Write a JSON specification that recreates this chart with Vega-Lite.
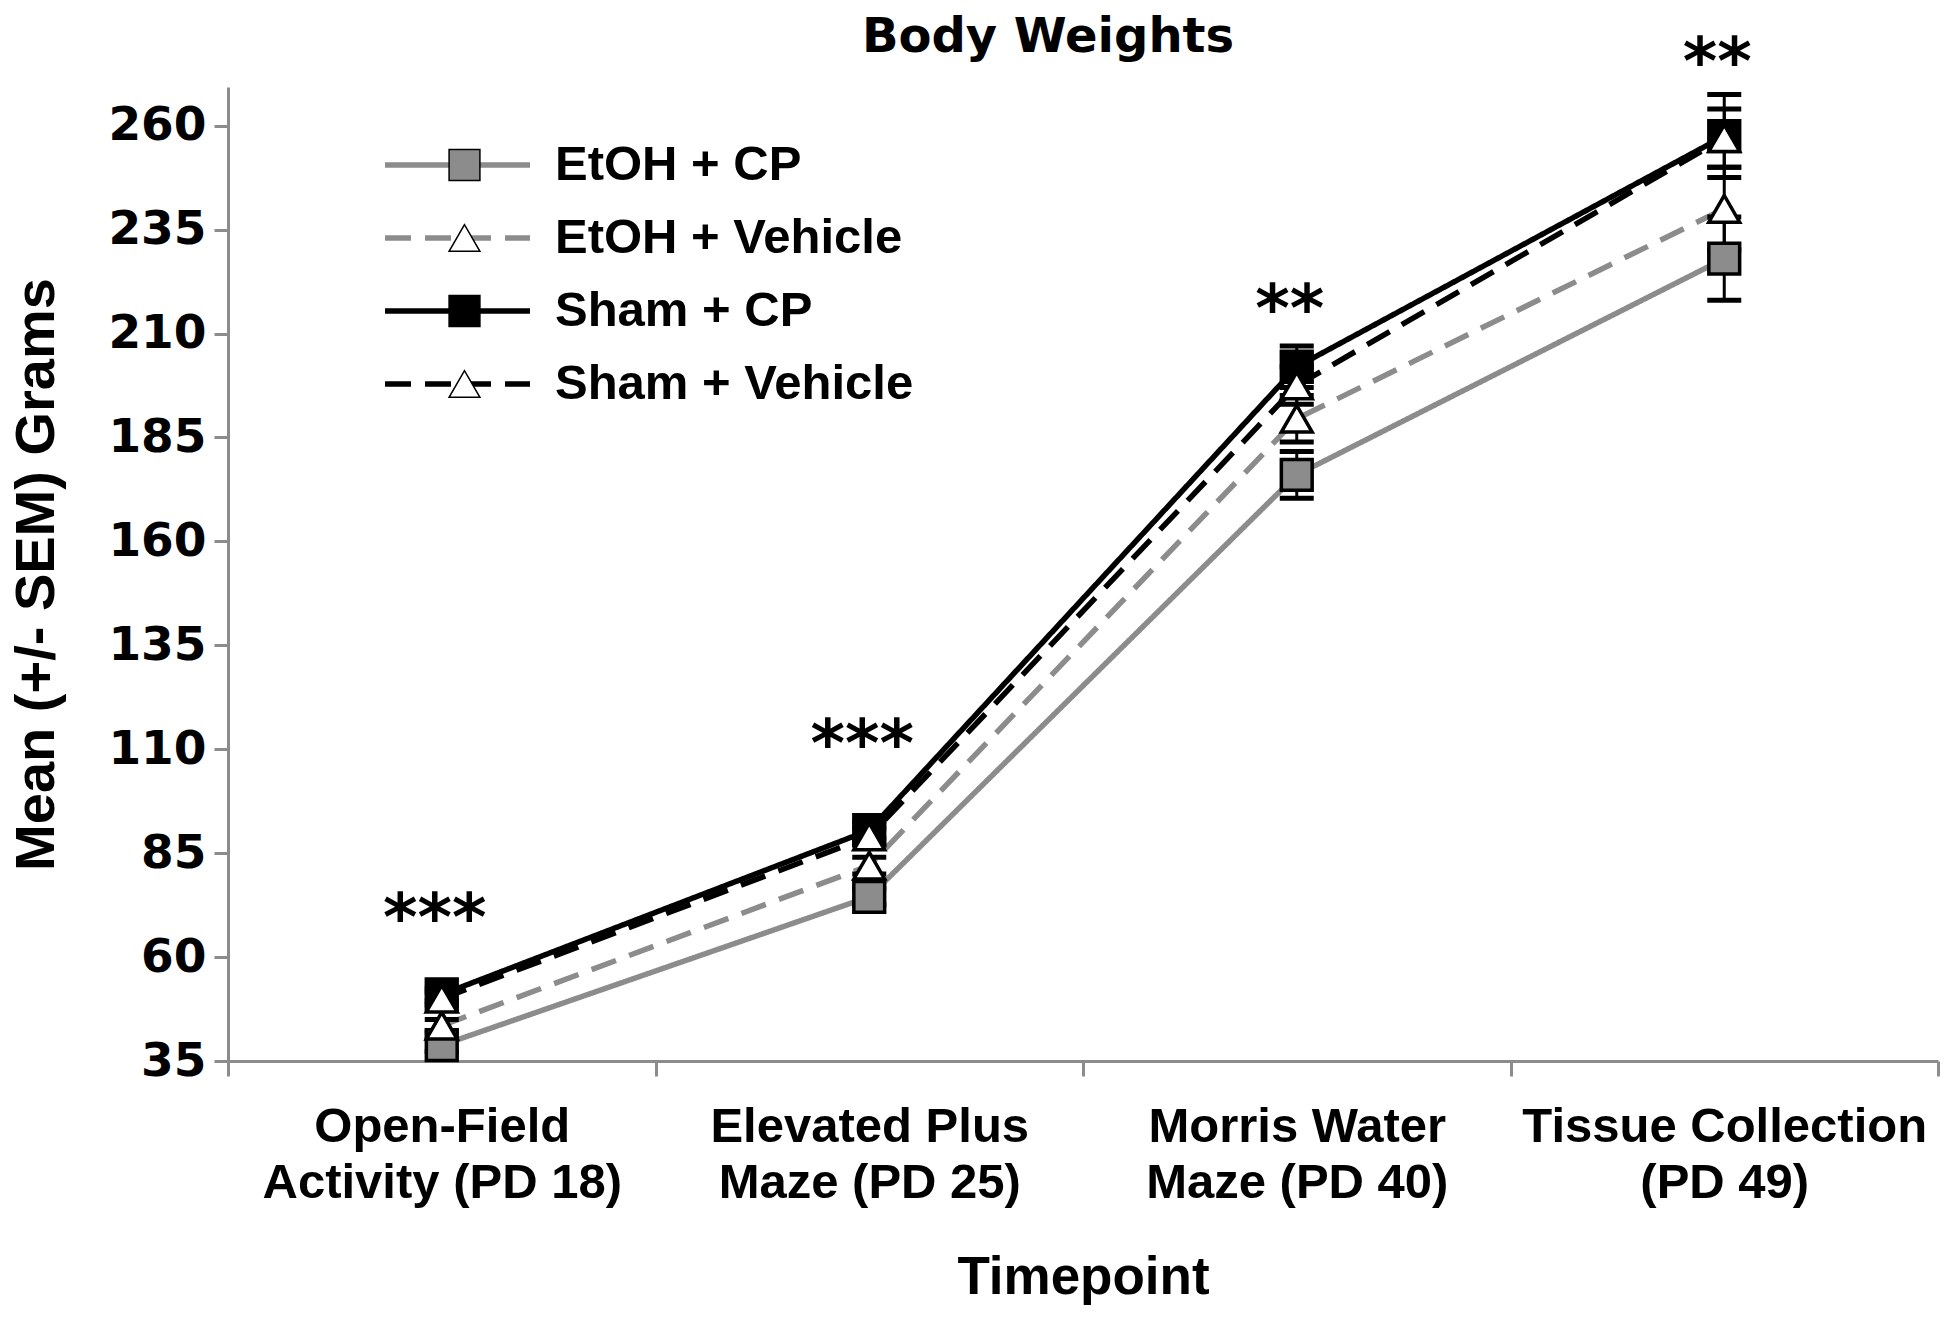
{
  "$schema": "https://vega.github.io/schema/vega-lite/v6.json",
  "width": 1710,
  "height": 974,
  "autosize": {"type": "none"},
  "padding": {"left": 228, "top": 87, "right": 12, "bottom": 256},
  "background": "white",
  "title": {"text": "Body Weights", "font": "DejaVu Sans", "fontSize": 48, "fontWeight": "bold", "color": "black", "anchor": "middle", "frame": "group", "dx": -35, "offset": -31},
  "config": {"view": {"stroke": null}},
  "datasets": {
    "weights": [
      {"timepoint": "Open-Field\nActivity (PD 18)", "series": "EtOH + CP", "mean": 38.8, "lo": 37.3, "hi": 40.3},
      {"timepoint": "Elevated Plus\nMaze (PD 25)", "series": "EtOH + CP", "mean": 74.5, "lo": 72.5, "hi": 76.5},
      {"timepoint": "Morris Water\nMaze (PD 40)", "series": "EtOH + CP", "mean": 176, "lo": 170.4, "hi": 181.6},
      {"timepoint": "Tissue Collection\n(PD 49)", "series": "EtOH + CP", "mean": 228, "lo": 218, "hi": 238},
      {"timepoint": "Open-Field\nActivity (PD 18)", "series": "EtOH + Vehicle", "mean": 43.5, "lo": 42, "hi": 45},
      {"timepoint": "Elevated Plus\nMaze (PD 25)", "series": "EtOH + Vehicle", "mean": 82, "lo": 80, "hi": 84},
      {"timepoint": "Morris Water\nMaze (PD 40)", "series": "EtOH + Vehicle", "mean": 189.5, "lo": 183.9, "hi": 195.1},
      {"timepoint": "Tissue Collection\n(PD 49)", "series": "EtOH + Vehicle", "mean": 240, "lo": 230, "hi": 250},
      {"timepoint": "Open-Field\nActivity (PD 18)", "series": "Sham + CP", "mean": 51, "lo": 49.5, "hi": 52.5},
      {"timepoint": "Elevated Plus\nMaze (PD 25)", "series": "Sham + CP", "mean": 90.5, "lo": 88.5, "hi": 92.5},
      {"timepoint": "Morris Water\nMaze (PD 40)", "series": "Sham + CP", "mean": 202, "lo": 197, "hi": 207},
      {"timepoint": "Tissue Collection\n(PD 49)", "series": "Sham + CP", "mean": 257.5, "lo": 247.5, "hi": 267.5},
      {"timepoint": "Open-Field\nActivity (PD 18)", "series": "Sham + Vehicle", "mean": 50, "lo": 48.5, "hi": 51.5},
      {"timepoint": "Elevated Plus\nMaze (PD 25)", "series": "Sham + Vehicle", "mean": 89, "lo": 87, "hi": 91},
      {"timepoint": "Morris Water\nMaze (PD 40)", "series": "Sham + Vehicle", "mean": 197.5, "lo": 193, "hi": 202},
      {"timepoint": "Tissue Collection\n(PD 49)", "series": "Sham + Vehicle", "mean": 257, "lo": 250, "hi": 264}
    ],
    "stars": [
      {"timepoint": "Open-Field\nActivity (PD 18)", "y": 64, "label": "***"},
      {"timepoint": "Elevated Plus\nMaze (PD 25)", "y": 106, "label": "***"},
      {"timepoint": "Morris Water\nMaze (PD 40)", "y": 210.7, "label": "**"},
      {"timepoint": "Tissue Collection\n(PD 49)", "y": 270, "label": "**"}
    ]
  },
  "encoding": {
    "x": {
      "field": "timepoint", "type": "nominal",
      "sort": ["Open-Field\nActivity (PD 18)", "Elevated Plus\nMaze (PD 25)", "Morris Water\nMaze (PD 40)", "Tissue Collection\n(PD 49)"],
      "scale": {"type": "band", "paddingInner": 0, "paddingOuter": 0},
      "axis": {
        "title": "Timepoint", "titleFont": "Liberation Sans", "titleFontSize": 53, "titleFontWeight": "bold", "titleColor": "black", "titlePadding": 44,
        "labelAngle": 0, "labelExpr": "datum.value ? split(datum.value, '\\n') : ''", "labelFont": "Liberation Sans", "labelFontSize": 49, "labelFontWeight": "bold", "labelColor": "black", "labelLineHeight": 56, "labelPadding": 26, "labelLimit": 0,
        "tickBand": "extent", "tickSize": 15, "tickWidth": 3, "tickColor": "#8c8c8c", "domainColor": "#8c8c8c", "domainWidth": 3, "grid": false
      }
    }
  },
  "layer": [
    {
      "data": {"name": "weights"},
      "mark": {"type": "line"},
      "encoding": {
        "y": {
          "field": "mean", "type": "quantitative",
          "scale": {"domain": [35, 269.3], "nice": false, "zero": false},
          "axis": {
            "values": [35, 60, 85, 110, 135, 160, 185, 210, 235, 260],
            "title": "Mean (+/- SEM) Grams", "titleFont": "Liberation Sans", "titleFontSize": 56, "titleFontWeight": "bold", "titleColor": "black", "titlePadding": 42,
            "labelFont": "DejaVu Sans", "labelFontSize": 47, "labelFontWeight": "bold", "labelColor": "black", "labelPadding": 8,
            "tickSize": 14, "tickWidth": 3, "tickColor": "#8c8c8c", "domainColor": "#8c8c8c", "domainWidth": 3, "grid": false
          }
        },
        "color": {
          "field": "series", "type": "nominal",
          "scale": {"domain": ["EtOH + CP", "EtOH + Vehicle", "Sham + CP", "Sham + Vehicle"], "range": ["#8c8c8c", "#8c8c8c", "#000000", "#000000"]},
          "legend": {"orient": "none", "legendX": 154, "legendY": 54, "title": null, "symbolType": "stroke", "symbolSize": 21025, "clipHeight": 48, "labelFont": "Liberation Sans", "labelFontSize": 49, "labelFontWeight": "bold", "labelColor": "black", "labelOffset": 22, "rowPadding": 24, "padding": 0, "labelLimit": 0, "zindex": 0}
        },
        "strokeDash": {
          "field": "series", "type": "nominal",
          "scale": {"domain": ["EtOH + CP", "EtOH + Vehicle", "Sham + CP", "Sham + Vehicle"], "range": [[1, 0], [26, 14], [1, 0], [26, 14]]},
          "legend": {"orient": "none", "legendX": 154, "legendY": 54, "title": null, "symbolType": "stroke", "symbolSize": 21025, "clipHeight": 48, "labelFont": "Liberation Sans", "labelFontSize": 49, "labelFontWeight": "bold", "labelColor": "black", "labelOffset": 22, "rowPadding": 24, "padding": 0, "labelLimit": 0, "zindex": 0}
        },
        "strokeWidth": {
          "field": "series", "type": "nominal",
          "scale": {"domain": ["EtOH + CP", "EtOH + Vehicle", "Sham + CP", "Sham + Vehicle"], "range": [5.5, 5.5, 7.5, 7]},
          "legend": {"orient": "none", "legendX": 154, "legendY": 54, "title": null, "symbolType": "stroke", "symbolSize": 21025, "clipHeight": 48, "labelFont": "Liberation Sans", "labelFontSize": 49, "labelFontWeight": "bold", "labelColor": "black", "labelOffset": 22, "rowPadding": 24, "padding": 0, "labelLimit": 0, "zindex": 0}
        }
      }
    },
    {
      "data": {"name": "weights"},
      "mark": {"type": "rule", "strokeWidth": 3, "color": "black"},
      "encoding": {
        "y": {"field": "lo", "type": "quantitative"},
        "y2": {"field": "hi"}
      }
    },
    {
      "data": {"name": "weights"},
      "mark": {"type": "tick", "orient": "horizontal", "size": 34, "thickness": 5, "color": "black", "opacity": 1},
      "encoding": {"y": {"field": "lo", "type": "quantitative"}}
    },
    {
      "data": {"name": "weights"},
      "mark": {"type": "tick", "orient": "horizontal", "size": 34, "thickness": 5, "color": "black", "opacity": 1},
      "encoding": {"y": {"field": "hi", "type": "quantitative"}}
    },
    {
      "data": {"name": "weights"},
      "mark": {"type": "point", "filled": true, "size": 950, "stroke": "black", "strokeWidth": 3.5, "opacity": 1},
      "encoding": {
        "y": {"field": "mean", "type": "quantitative"},
        "shape": {
          "field": "series", "type": "nominal",
          "scale": {"range": ["square", "triangle-up", "square", "triangle-up"]},
          "legend": {"orient": "none", "legendX": 212, "legendY": 54, "title": null, "symbolSize": 950, "clipHeight": 48, "labelFont": "Liberation Sans", "labelFontSize": 49, "labelFontWeight": "bold", "labelExpr": "''", "rowPadding": 24, "padding": 0, "zindex": 1,
            "encode": {"symbols": {"update": {"stroke": {"value": "black"}, "strokeWidth": {"value": 3.5}, "opacity": {"value": 1}}}}}
        },
        "fill": {
          "field": "series", "type": "nominal",
          "scale": {"range": ["#8c8c8c", "#ffffff", "#000000", "#ffffff"]},
          "legend": {"orient": "none", "legendX": 212, "legendY": 54, "title": null, "symbolSize": 950, "clipHeight": 48, "labelFont": "Liberation Sans", "labelFontSize": 49, "labelFontWeight": "bold", "labelExpr": "''", "rowPadding": 24, "padding": 0, "zindex": 1,
            "encode": {"symbols": {"update": {"stroke": {"value": "black"}, "strokeWidth": {"value": 3.5}, "opacity": {"value": 1}}}}}
        }
      }
    },
    {
      "data": {"name": "stars"},
      "mark": {"type": "text", "font": "DejaVu Sans", "fontSize": 66, "fontWeight": "bold", "color": "black", "baseline": "alphabetic", "align": "center", "dx": -7},
      "encoding": {
        "y": {"field": "y", "type": "quantitative"},
        "text": {"field": "label"}
      }
    }
  ]
}
